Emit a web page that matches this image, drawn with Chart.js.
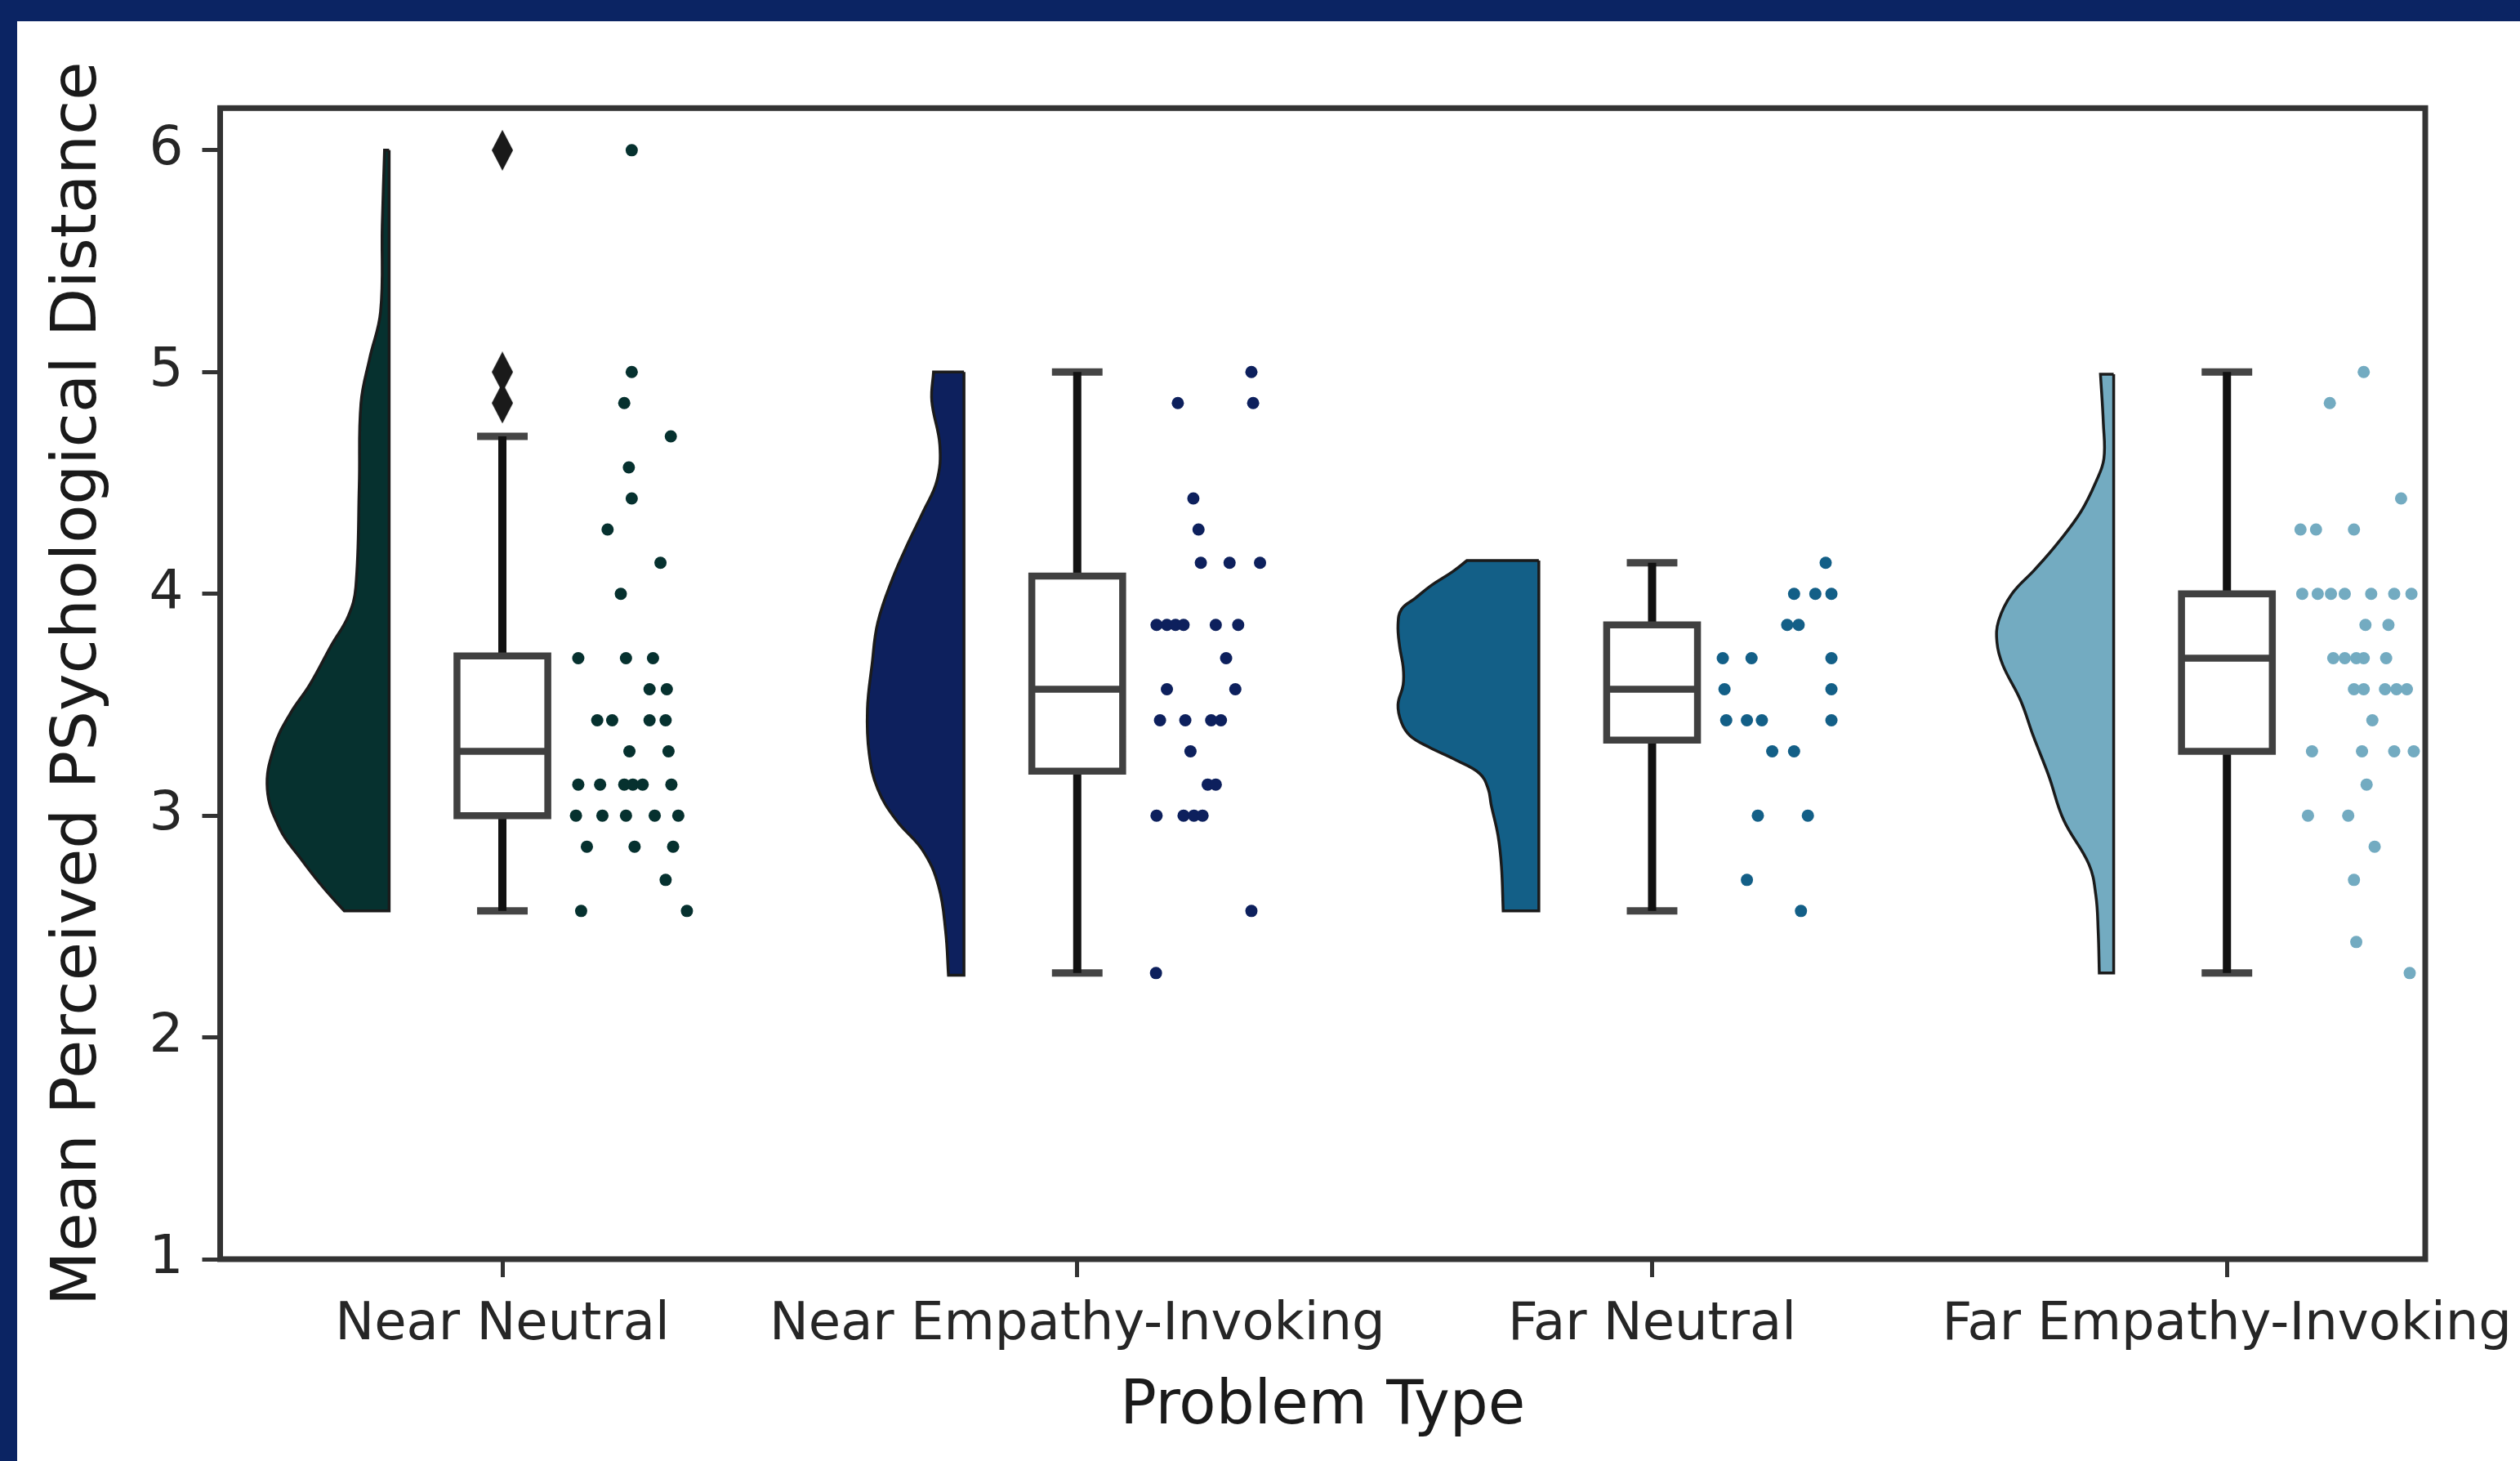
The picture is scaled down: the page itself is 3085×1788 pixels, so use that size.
<!DOCTYPE html>
<html><head><meta charset="utf-8">
<script src="https://cdn.jsdelivr.net/npm/chart.js@4.4.1/dist/chart.umd.min.js"></script>
<style>
html,body{margin:0;padding:0;background:#0b2463;width:3085px;height:1788px;overflow:hidden;}
#panel{position:absolute;left:21px;top:26px;width:3064px;height:1762px;background:#ffffff;}
canvas{display:block;}
</style></head><body>
<div id="panel"><canvas id="c" width="3064" height="1762"></canvas></div>
<script>
// ---------------- data ----------------
const categories = ['Near Neutral', 'Near Empathy-Invoking', 'Far Neutral', 'Far Empathy-Invoking'];
const groupColors = ['#06312f', '#0d205d', '#135f87', '#73abc1'];

// box plot statistics
const q1          = [3.00, 3.20, 3.34, 3.29];
const median      = [3.29, 3.57, 3.57, 3.71];
const q3          = [3.72, 4.08, 3.86, 4.00];
const whiskerLow  = [2.57, 2.29, 2.57, 2.29];
const whiskerHigh = [4.71, 5.00, 4.14, 5.00];
const outliers    = [[4.86, 5.00, 6.00], [], [], []];

// half-violin density profiles: [value, half width]
const violinNN = [[6.00,0.008],[5.66,0.012],[5.27,0.015],[5.06,0.034],[4.86,0.049],[4.49,0.052],[4.03,0.058],[3.90,0.071],[3.77,0.100],[3.59,0.138],[3.46,0.172],[3.31,0.200],[3.12,0.212],[2.94,0.190],[2.81,0.155],[2.68,0.116],[2.57,0.078]];
const violinNE = [[5.00,0.053],[4.87,0.056],[4.67,0.042],[4.51,0.047],[4.37,0.071],[4.23,0.097],[4.07,0.124],[3.87,0.150],[3.68,0.160],[3.48,0.168],[3.28,0.165],[3.12,0.150],[2.98,0.118],[2.84,0.071],[2.68,0.044],[2.48,0.032],[2.28,0.027]];
const violinFN = [[4.15,0.125],[4.10,0.150],[4.04,0.186],[3.98,0.215],[3.93,0.239],[3.86,0.245],[3.76,0.242],[3.67,0.236],[3.59,0.236],[3.50,0.245],[3.42,0.239],[3.36,0.224],[3.31,0.192],[3.25,0.144],[3.19,0.103],[3.12,0.088],[3.05,0.083],[2.91,0.071],[2.77,0.065],[2.57,0.062]];
const violinFE = [[4.99,0.023],[4.77,0.018],[4.61,0.017],[4.51,0.030],[4.37,0.057],[4.23,0.097],[4.11,0.137],[4.00,0.177],[3.88,0.200],[3.78,0.203],[3.68,0.193],[3.52,0.162],[3.36,0.140],[3.18,0.113],[2.98,0.087],[2.78,0.043],[2.64,0.031],[2.48,0.027],[2.29,0.025]];
const violins = [violinNN, violinNE, violinFN, violinFE];

// strip (rain) points: values and their horizontal jitter
const stripNN = [6.00,5.00,4.86,4.71,4.57,4.43,4.29,4.14,4.00, 3.71,3.71,3.71, 3.57,3.57, 3.43,3.43,3.43,3.43, 3.29,3.29, 3.14,3.14,3.14,3.14,3.14,3.14, 3.00,3.00,3.00,3.00,3.00, 2.86,2.86,2.86, 2.71, 2.57,2.57];
const jitterNN = [0.225,0.225,0.212,0.293,0.220,0.225,0.183,0.275,0.206, 0.132,0.215,0.262, 0.256,0.286, 0.165,0.191,0.256,0.284, 0.221,0.289, 0.132,0.170,0.212,0.227,0.244,0.294, 0.128,0.174,0.215,0.265,0.306, 0.147,0.230,0.297, 0.284, 0.137,0.321];
const stripNE = [5.00, 4.86,4.86, 4.43, 4.29, 4.14,4.14,4.14, 3.86,3.86,3.86,3.86,3.86,3.86, 3.71, 3.57,3.57, 3.43,3.43,3.43,3.43, 3.29, 3.14,3.14, 3.00,3.00,3.00,3.00, 2.57, 2.29];
const jitterNE = [0.303, 0.175,0.306, 0.202, 0.211, 0.215,0.265,0.318, 0.138,0.156,0.171,0.185,0.241,0.280, 0.259, 0.156,0.275, 0.144,0.188,0.233,0.250, 0.197, 0.227,0.241, 0.138,0.185,0.203,0.218, 0.303, 0.137];
const stripFN = [4.14, 4.00,4.00,4.00, 3.86,3.86, 3.71,3.71,3.71, 3.57,3.57, 3.43,3.43,3.43,3.43, 3.29,3.29, 3.00,3.00, 2.71, 2.57];
const jitterFN = [0.302, 0.247,0.284,0.312, 0.235,0.255, 0.123,0.173,0.312, 0.126,0.312, 0.129,0.165,0.191,0.312, 0.209,0.247, 0.184,0.271, 0.165, 0.259];
const stripFE = [5.00, 4.86, 4.43, 4.29,4.29,4.29, 4.00,4.00,4.00,4.00,4.00,4.00,4.00, 3.86,3.86, 3.71,3.71,3.71,3.71,3.71, 3.57,3.57,3.57,3.57,3.57, 3.43, 3.29,3.29,3.29,3.29, 3.14, 3.00,3.00, 2.86, 2.71, 2.43, 2.29];
const jitterFE = [0.238, 0.179, 0.303, 0.128,0.155,0.221, 0.131,0.158,0.181,0.205,0.251,0.291,0.321, 0.241,0.281, 0.185,0.205,0.225,0.238,0.277, 0.221,0.238,0.275,0.295,0.313, 0.253, 0.148,0.235,0.291,0.325, 0.243, 0.141,0.211, 0.257, 0.221, 0.225, 0.318];
const strips = [stripNN, stripNE, stripFN, stripFE];
const jitters = [jitterNN, jitterNE, jitterFN, jitterFE];

const yTicks = [1, 2, 3, 4, 5, 6];

// ---------------- layout / style constants ----------------
const FONT = 'DejaVu Sans';
const X_MIN = -0.491, X_MAX = 3.345, Y_MIN = 1, Y_MAX = 6.19;
const VIOLIN_EDGE = -0.197, BOX_HALF = 0.079, CAP_HALF = 0.044;

function violinPoints(i, prof) {
  const e = i + VIOLIN_EDGE;
  const top = prof[0][0], bot = prof[prof.length - 1][0];
  const pts = [{x: e, y: top}, {x: e, y: top}];
  prof.forEach(([v, w], k) => {
    pts.push({x: e - w, y: v});
    if (k === 0 || k === prof.length - 1) pts.push({x: e - w, y: v});
  });
  pts.push({x: e, y: bot}, {x: e, y: bot}, {x: e, y: top}, {x: e, y: top});
  return pts;
}
function segs(list) {
  const d = [];
  list.forEach(([a, b, c, e]) => { d.push({x: a, y: b}, {x: c, y: e}, {x: c, y: null}); });
  return d;
}

const datasets = [];
// outliers (top)
const dia = document.createElement('canvas');
dia.width = 26; dia.height = 50;
(() => { const g = dia.getContext('2d'); g.fillStyle = '#1a1a1a'; g.beginPath(); g.moveTo(13, 0); g.lineTo(26, 25); g.lineTo(13, 50); g.lineTo(0, 25); g.closePath(); g.fill(); })();
const outData = [];
outliers.forEach((arr, i) => arr.forEach(v => outData.push({x: i, y: v})));
datasets.push({type: 'scatter', data: outData, pointStyle: dia, pointRadius: 20, order: 0});

// strip points
strips.forEach((vals, i) => {
  datasets.push({type: 'scatter', data: vals.map((v, k) => ({x: i + jitters[i][k], y: v})),
    pointRadius: 7.5, pointBorderWidth: 0, backgroundColor: groupColors[i], borderColor: groupColors[i], order: 1});
});

// boxes
const boxData = [];
categories.forEach((_, i) => {
  boxData.push({x: i - BOX_HALF, y: q1[i]}, {x: i + BOX_HALF, y: q1[i]}, {x: i + BOX_HALF, y: q3[i]},
    {x: i - BOX_HALF, y: q3[i]}, {x: i - BOX_HALF, y: q1[i]}, {x: i + BOX_HALF, y: q1[i]}, {x: i, y: null});
});
datasets.push({type: 'line', data: boxData, borderColor: '#404040', borderWidth: 8.5, pointRadius: 0,
  borderJoinStyle: 'miter', fill: false, tension: 0, order: 2});
datasets.push({type: 'line', data: segs(categories.map((_, i) => [i - BOX_HALF, median[i], i + BOX_HALF, median[i]])),
  borderColor: '#404040', borderWidth: 8.5, pointRadius: 0, fill: false, tension: 0, order: 3});
datasets.push({type: 'line', data: segs(categories.flatMap((_, i) => [[i, whiskerLow[i], i, q1[i]], [i, q3[i], i, whiskerHigh[i]]])),
  borderColor: '#111111', borderWidth: 10, pointRadius: 0, fill: false, tension: 0, order: 4});
datasets.push({type: 'line', data: segs(categories.flatMap((_, i) => [[i - CAP_HALF, whiskerLow[i], i + CAP_HALF, whiskerLow[i]], [i - CAP_HALF, whiskerHigh[i], i + CAP_HALF, whiskerHigh[i]]])),
  borderColor: '#454545', borderWidth: 9, pointRadius: 0, fill: false, tension: 0, order: 5});

// half violins
violins.forEach((prof, i) => {
  datasets.push({type: 'line', data: violinPoints(i, prof), backgroundColor: groupColors[i], borderColor: '#1b1b1b',
    borderWidth: 3.5, pointRadius: 0, fill: 'shape', tension: 0.4, borderJoinStyle: 'miter', order: 6});
});

const framePlugin = {
  id: 'frame',
  afterDatasetsDraw(chart) {
    const {ctx, chartArea: a} = chart;
    ctx.save();
    ctx.strokeStyle = '#333333'; ctx.lineWidth = 7; ctx.lineJoin = 'miter';
    ctx.strokeRect(a.left, a.top, a.right - a.left, a.bottom - a.top);
    ctx.restore();
  }
};

new Chart(document.getElementById('c'), {
  data: {datasets},
  options: {
    responsive: false, devicePixelRatio: 1, animation: false,
    layout: {padding: {left: 0, top: 106.3, right: 116, bottom: 0}},
    plugins: {legend: {display: false}, tooltip: {enabled: false}},
    scales: {
      x: {
        type: 'linear', min: X_MIN, max: X_MAX,
        afterBuildTicks: s => { s.ticks = categories.map((_, i) => ({value: i})); },
        afterFit: s => { s.height = 247; s.paddingLeft = 0; s.paddingRight = 0; },
        ticks: {callback: v => categories[v], font: {family: FONT, size: 64}, color: '#262626',
          padding: 21, maxRotation: 0, minRotation: 0, autoSkip: false},
        grid: {drawOnChartArea: false, drawTicks: true, tickLength: 22, tickWidth: 5, tickColor: '#333333'},
        border: {display: false},
        title: {display: true, text: 'Problem Type', font: {family: FONT, size: 74}, color: '#1a1a1a', padding: {top: 0, bottom: 21}}
      },
      y: {
        type: 'linear', min: Y_MIN, max: Y_MAX,
        afterBuildTicks: s => { s.ticks = yTicks.map(v => ({value: v})); },
        afterFit: s => { s.width = 248.5; s.paddingTop = 0; s.paddingBottom = 0; },
        ticks: {font: {family: FONT, size: 66}, color: '#262626', padding: 23},
        grid: {drawOnChartArea: false, drawTicks: true, tickLength: 22, tickWidth: 5, tickColor: '#333333'},
        border: {display: false},
        title: {display: true, text: 'Mean Perceived PSychological Distance', font: {family: FONT, size: 77}, color: '#1a1a1a', padding: {top: 30, bottom: 0}}
      }
    }
  },
  plugins: [framePlugin]
});
</script>
</body></html>
